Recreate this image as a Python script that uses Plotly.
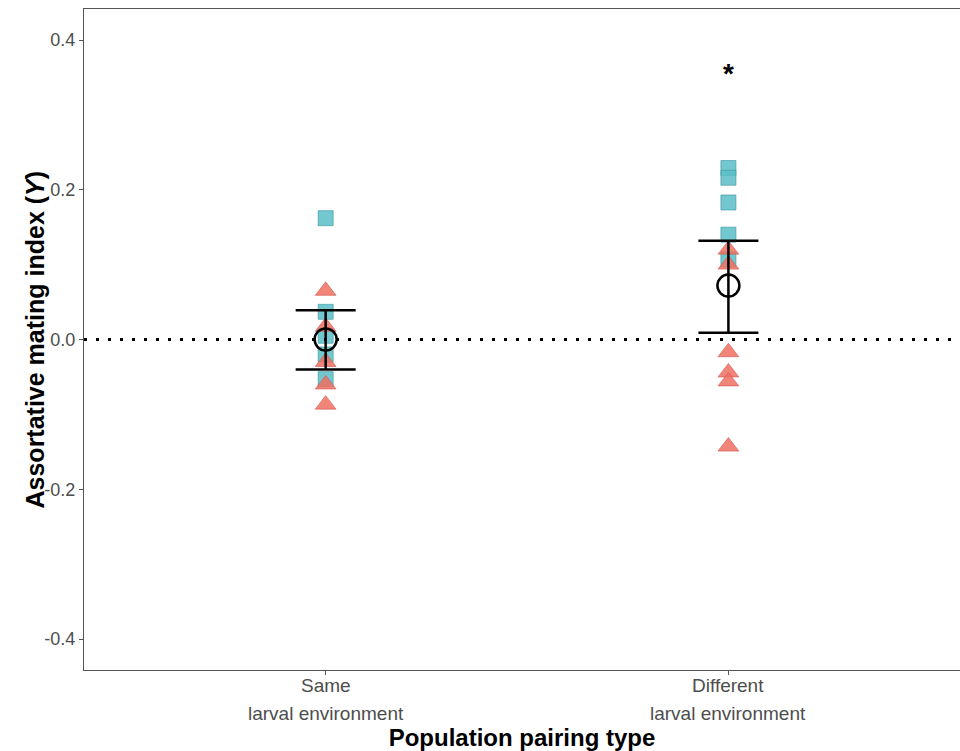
import plotly.graph_objects as go

categories = ["Same", "Different"]
cat_sub = ["larval environment", "larval environment"]
cat_pos = [1, 2]

same_squares = [0.162, 0.037, 0.005, -0.020, -0.053]
same_triangles = [0.065, 0.017, -0.030, -0.060, -0.087]
diff_squares = [0.229, 0.216, 0.183, 0.140, 0.107]
diff_triangles = [0.120, 0.100, -0.017, -0.044, -0.056, -0.143]

means = [0.0, 0.072]
se_hi = [0.039, 0.060]
se_lo = [0.040, 0.063]
signif = ["", "*"]
signif_y = [None, 0.355]

sq_color = "rgba(90,190,200,0.85)"
tri_color = "rgba(240,112,98,0.85)"

fig = go.Figure()

fig.add_shape(type="line", xref="paper", x0=0, x1=1, yref="y", y0=0, y1=0,
              line=dict(color="black", width=3, dash="3px,9px"))

fig.add_trace(go.Scatter(
    x=[1] * len(same_squares) + [2] * len(diff_squares),
    y=same_squares + diff_squares, mode="markers",
    marker=dict(symbol="square", size=15, color=sq_color,
                line=dict(color="rgba(60,150,160,0.8)", width=0.8)),
    showlegend=False))
fig.add_trace(go.Scatter(
    x=[1] * len(same_triangles) + [2] * len(diff_triangles),
    y=same_triangles + diff_triangles, mode="markers",
    marker=dict(symbol="triangle-up", size=18, color=tri_color,
                line=dict(color="rgba(210,90,80,0.8)", width=0.8)),
    showlegend=False))
fig.add_trace(go.Scatter(
    x=cat_pos, y=means, mode="markers",
    marker=dict(symbol="circle-open", size=22, color="black", line=dict(width=2.5)),
    error_y=dict(type="data", symmetric=False, array=se_hi, arrayminus=se_lo,
                 color="black", thickness=2.5, width=30),
    showlegend=False))

for xp, s, sy in zip(cat_pos, signif, signif_y):
    if s:
        fig.add_annotation(x=xp, y=sy, text="<b>" + s + "</b>", showarrow=False,
                           font=dict(size=28, color="black"))

for xp, cat, sub in zip(cat_pos, categories, cat_sub):
    fig.add_annotation(x=xp, xref="x", y=0, yref="paper", yshift=-15,
                       text=cat, showarrow=False,
                       font=dict(size=19, color="#4d4d4d"), yanchor="middle")
    fig.add_annotation(x=xp, xref="x", y=0, yref="paper", yshift=-43,
                       text=sub, showarrow=False,
                       font=dict(size=19, color="#4d4d4d"), yanchor="middle")

fig.add_annotation(x=0, xref="paper", xshift=-50, y=0.5, yref="paper",
                   text="<b>Assortative mating index (<i>Y</i>)</b>", textangle=-90,
                   showarrow=False, xanchor="center", yanchor="middle",
                   font=dict(size=25, color="black"))

fig.update_layout(
    width=960, height=751,
    margin=dict(l=84, r=0, t=9, b=81),
    plot_bgcolor="white", paper_bgcolor="white",
    font=dict(family="Liberation Sans, Arial, sans-serif"),
    xaxis=dict(range=[0.4, 2.575], tickvals=cat_pos, ticktext=categories,
               showticklabels=False,
               showline=True, mirror=True, linecolor="#555555", linewidth=1.2,
               ticks="outside", ticklen=4, tickcolor="#555555",
               showgrid=False, zeroline=False,
               automargin=False,
               title=dict(text="<b>Population pairing type</b>", font=dict(size=24, color="black"),
                          standoff=56)),
    yaxis=dict(range=[-0.4414, 0.4414], tickvals=[-0.4, -0.2, 0.0, 0.2, 0.4],
               ticktext=["-0.4", "-0.2", "0.0", "0.2", "0.4"],
               showline=True, linecolor="#555555", linewidth=1.2,
               ticks="outside", ticklen=4, tickcolor="#555555",
               tickfont=dict(size=18, color="#4d4d4d"), showgrid=False, zeroline=False,
               automargin=False),
)

fig.write_html("out.html", config={"displayModeBar": False},
               post_script="document.body.style.margin='0';document.body.style.overflow='hidden';")
